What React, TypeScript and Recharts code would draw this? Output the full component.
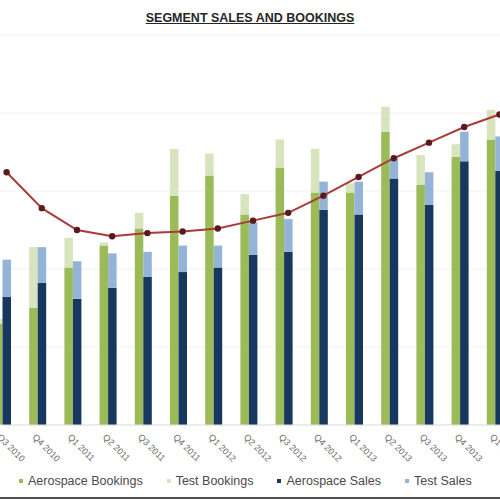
import { ComposedChart, Bar, Line, XAxis, YAxis, CartesianGrid } from 'recharts';

const quarters = [
  'Q3 2010', 'Q4 2010', 'Q1 2011', 'Q2 2011', 'Q3 2011', 'Q4 2011', 'Q1 2012', 'Q2 2012',
  'Q3 2012', 'Q4 2012', 'Q1 2013', 'Q2 2013', 'Q3 2013', 'Q4 2013', 'Q1 2014',
];
const aerospaceBookings = [65, 75, 101, 115, 126, 147, 160, 135, 165, 149, 149, 188, 154, 172, 183];
const testBookings = [3, 39, 19, 2, 10, 30, 14, 13, 18, 28, 6, 16, 19, 8, 19];
const aerospaceSales = [82, 91, 81, 88, 95, 98, 101, 109, 111, 138, 135, 158, 141, 169, 163];
const testSales = [24, 23, 24, 22, 16, 17, 14, 21, 21, 18, 21, 13, 21, 19, 22];
const totalSales = [162, 139, 125, 121, 123, 124, 126, 131, 136, 147, 159, 171, 181, 191, 199];

const data = quarters.map((q, i) => ({
  q,
  aeroBook: aerospaceBookings[i],
  testBook: testBookings[i],
  aeroSales: aerospaceSales[i],
  testSales: testSales[i],
  spacer: 0,
  total: totalSales[i],
}));

const legendItems = [
  { name: 'Aerospace Bookings', color: '#9bbb59' },
  { name: 'Test Bookings', color: '#d7e4bd' },
  { name: 'Aerospace Sales', color: '#17375e' },
  { name: 'Test Sales', color: '#95b3d7' },
];

const AngledTick = ({ x, y, payload }: { x?: number; y?: number; payload?: { value: string } }) => (
  <g transform={`translate(${(x ?? 0) - 7},${(y ?? 0) + 2})`}>
    <text x={0} y={0} dy={4} transform="rotate(45)" textAnchor="start" fontSize={9} fill="#6a6a6a"
      fontFamily="Liberation Sans, Arial, sans-serif">
      {payload?.value}
    </text>
  </g>
);

export default function App() {
  return (
    <div style={{
      position: 'fixed', top: 0, left: 0, width: 500, height: 500,
      overflow: 'hidden', background: '#fff', fontFamily: 'Liberation Sans, Arial, sans-serif',
    }}>
      <div style={{
        position: 'absolute', top: 11, left: 0, width: 500, textAlign: 'center',
        fontSize: 12.5, fontWeight: 700, textDecoration: 'underline', color: '#262626',
      }}>
        SEGMENT SALES AND BOOKINGS
      </div>

      <div style={{ position: 'absolute', top: 0, left: -11 }}>
        <ComposedChart width={528} height={500} data={data}
          margin={{ top: 35, right: 0, bottom: 0, left: 0 }} barGap={0}>
          <CartesianGrid vertical={false} stroke="#f0f0f0" />
          <XAxis dataKey="q" height={75} interval={0} tickLine={false}
            axisLine={{ stroke: '#e0e0e0' }} tick={<AngledTick />} />
          <YAxis hide domain={[0, 250]} ticks={[0, 50, 100, 150, 200, 250]} />
          <Bar dataKey="aeroBook" stackId="book" fill="#9bbb59" barSize={8.5} isAnimationActive={false} />
          <Bar dataKey="testBook" stackId="book" fill="#d7e4bd" barSize={8.5} isAnimationActive={false} />
          <Bar dataKey="aeroSales" stackId="sales" fill="#17375e" barSize={8.5} isAnimationActive={false} />
          <Bar dataKey="testSales" stackId="sales" fill="#95b3d7" barSize={8.5} isAnimationActive={false} />
          <Bar dataKey="spacer" stackId="gap" fill="none" barSize={8.5} isAnimationActive={false} />
          <Line dataKey="total" type="linear" stroke="#a83c3a" strokeWidth={2}
            dot={{ r: 2.2, fill: '#5c1a1a', stroke: '#5c1a1a' }} legendType="none" isAnimationActive={false} />
        </ComposedChart>
      </div>

      <div style={{
        position: 'absolute', top: 474, left: 19, display: 'flex', gap: 24,
        fontSize: 12.5, color: '#4a4a4a', alignItems: 'center',
      }}>
        {legendItems.map((d) => (
          <div key={d.name} style={{ display: 'flex', alignItems: 'center', gap: 5 }}>
            <div style={{ width: 4, height: 4, background: d.color }} />
            <span>{d.name}</span>
          </div>
        ))}
      </div>

      <div style={{ position: 'absolute', top: 497, left: 0, width: 500, height: 2, background: '#505050' }} />
    </div>
  );
}
